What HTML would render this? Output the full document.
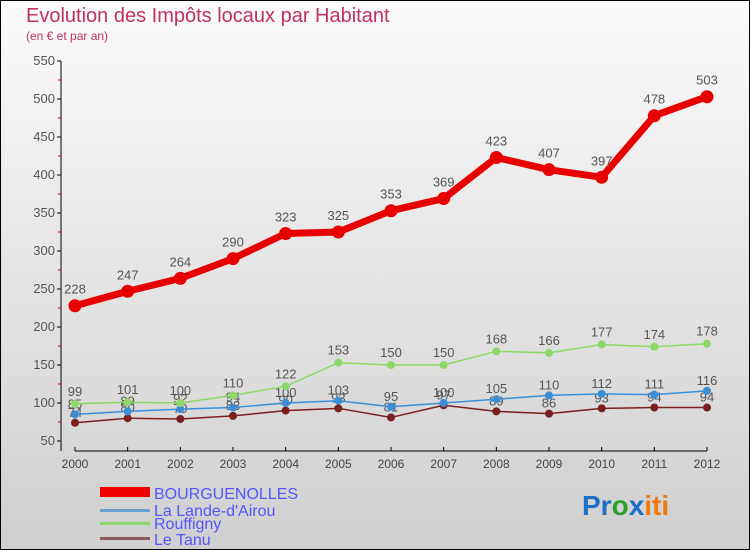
<!DOCTYPE html>
<html><head><meta charset="utf-8"><style>
body{margin:0;width:750px;height:550px;overflow:hidden;font-family:"Liberation Sans",sans-serif}
#c{position:absolute;left:0;top:0}
</style></head><body>
<svg id="c" width="750" height="550">
<defs><linearGradient id="bg" x1="0" y1="0" x2="0" y2="1"><stop offset="0" stop-color="#fbfbfb"/><stop offset="1" stop-color="#cfcfcf"/></linearGradient></defs>
<rect x="0.5" y="0.5" width="749" height="549" fill="url(#bg)" stroke="#000"/>
<text x="26" y="22" font-size="20" fill="#c0315f">Evolution des Impôts locaux par Habitant</text>
<text x="26" y="40" font-size="12" fill="#c0315f">(en € et par an)</text>
<g id="axes"></g><g id="series"></g>
<g font-size="16" fill="#5555ff">
<rect x="100" y="487" width="50" height="10" fill="#e00"/>
<text x="154" y="499">BOURGUENOLLES</text>
<rect x="100" y="509" width="50" height="3" fill="#6a9fd0"/>
<text x="154" y="516">La Lande-d'Airou</text>
<rect x="100" y="522" width="50" height="3" fill="#8ed86a"/>
<text x="154" y="529">Rouffigny</text>
<rect x="100" y="537" width="50" height="3" fill="#8b5a5a"/>
<text x="154" y="545">Le Tanu</text>
</g>
<text x="582" y="515" font-size="28" font-weight="bold"><tspan fill="#1a6fc8">Pr</tspan><tspan fill="#2aa02a">o</tspan><tspan fill="#1a6fc8">x</tspan><tspan fill="#f07a10">iti</tspan></text>
</svg>
<script>
const years=[2000,2001,2002,2003,2004,2005,2006,2007,2008,2009,2010,2011,2012];
const yTicks=[50,100,150,200,250,300,350,400,450,500,550];
const bourguenolles=[228,247,264,290,323,325,353,369,423,407,397,478,503];
const laLande=[85,89,92,94,100,103,95,100,105,110,112,111,116];
const rouffigny=[99,101,100,110,122,153,150,150,168,166,177,174,178];
const leTanu=[74,80,79,83,90,93,81,97,89,86,93,94,94];
const NS='http://www.w3.org/2000/svg';
const X=i=>75+i*(707-75)/(years.length-1);
const Y=v=>441-(v-50)*380/500;
function mk(t,a,p){const e=document.createElementNS(NS,t);for(const k in a)e.setAttribute(k,a[k]);p.appendChild(e);return e;}
const ax=document.getElementById('axes');
mk('line',{x1:61,y1:61,x2:61,y2:451,stroke:'#000'},ax);
mk('line',{x1:75,y1:451,x2:707,y2:451,stroke:'#000'},ax);
yTicks.forEach(v=>{
 mk('line',{x1:57,y1:Y(v),x2:61,y2:Y(v),stroke:'#000'},ax);
 if(v<550)mk('line',{x1:58,y1:Y(v+25),x2:61,y2:Y(v+25),stroke:'#d00'},ax);
 const t=mk('text',{x:55,y:Y(v)+4,'font-size':13,fill:'#555','text-anchor':'end'},ax);
 
 
 t.textContent=v;
});
years.forEach((y,i)=>{
 mk('line',{x1:X(i),y1:447,x2:X(i),y2:451,stroke:'#000'},ax);
 const t=mk('text',{x:X(i),y:468,'font-size':12,fill:'#444','text-anchor':'middle'},ax);
 
 
 t.textContent=y;
});
const sg=document.getElementById('series');
function draw(arr,name,color,w,r,labelOff){
 const g=mk('g',{},sg);
 
 
 mk('polyline',{points:arr.map((v,i)=>X(i)+','+Y(v)).join(' '),fill:'none',stroke:color,'stroke-width':w,'stroke-linejoin':'round'},g);
 arr.forEach((v,i)=>{
  const c=mk('circle',{cx:X(i),cy:Y(v),r:r,fill:color},g);
  
  
  const t=mk('text',{x:X(i),y:Y(v)+labelOff,'font-size':13,fill:'#555','text-anchor':'middle'},g);
  
  
  t.textContent=v;
 });
}
draw(leTanu,'le-tanu','#7a1f1f',1.5,4,-6);
draw(laLande,'la-lande','#3a8fd8',1.5,4,-6);
draw(rouffigny,'rouffigny','#8ed86a',1.5,4,-8);
draw(bourguenolles,'bourguenolles','#e80000',7,6.5,-12);
</script>
</body></html>
